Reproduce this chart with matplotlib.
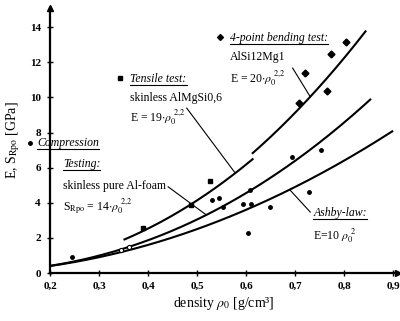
import numpy as np
import matplotlib
matplotlib.use("Agg")
import matplotlib.pyplot as plt
import matplotlib.lines as mlines

plt.rcParams['font.family'] = ['Liberation Serif', 'DejaVu Serif']
plt.rcParams['mathtext.fontset'] = 'stix'

# --- fitted laws: coefficient, exponent, density range ---
ashby_k, ashby_n = 10, 2.0
ashby_range = (0.2, 0.9)
comp_k, comp_n = 14, 2.2
comp_range = (0.2, 0.855)
tens_k, tens_n = 19, 2.2
tens_range = (0.35, 0.615)
bend_k, bend_n = 20, 2.2
bend_range = (0.612, 0.845)

# --- measured points (density, modulus) ---
bend_rho = [0.707, 0.766, 0.721, 0.774, 0.804]
bend_E = [9.67, 10.36, 11.4, 12.5, 13.15]

tens_rho = [0.39, 0.487, 0.527]
tens_E = [2.56, 3.87, 5.24]

comp_rho = [0.244, 0.53, 0.545, 0.553, 0.594, 0.61, 0.604, 0.608, 0.648,
            0.693, 0.729, 0.752]
comp_E = [0.93, 4.15, 4.27, 3.76, 3.93, 3.93, 2.28, 4.72, 3.76,
          6.6, 4.6, 7.0]

comp_open_rho = [0.345, 0.362]
comp_open_E = [1.3, 1.48]

xticks = [0.2, 0.3, 0.4, 0.5, 0.6, 0.7, 0.8, 0.9]
yticks = [0, 2, 4, 6, 8, 10, 12, 14]


def law(k, n, rng):
    x = np.linspace(rng[0], rng[1], 200)
    return x, k * x ** n


fig = plt.figure(figsize=(4, 3.21), dpi=100)
ax = fig.add_axes([0.125, 0.1495, 0.87, 0.826])

lw = 1.5
for k, n, rng in [(ashby_k, ashby_n, ashby_range), (comp_k, comp_n, comp_range),
                  (tens_k, tens_n, tens_range), (bend_k, bend_n, bend_range)]:
    x, y = law(k, n, rng)
    ax.plot(x, y, color='black', lw=lw, solid_capstyle='butt')

ax.plot(bend_rho, bend_E, 'D', color='black', ms=3.5)
ax.plot(tens_rho, tens_E, 's', color='black', ms=3)
ax.plot(comp_rho, comp_E, 'o', color='black', ms=2.5)
ax.plot(comp_open_rho, comp_open_E, 'o', mfc='white', mec='black', ms=3, mew=0.8)

# pointer lines from labels to curves
def pointer(x0, y0, x1, k, n):
    ax.plot([x0, x1], [y0, k * x1 ** n], color='black', lw=0.8)

pointer(0.479, 9.39, 0.578, tens_k, tens_n)
pointer(0.695, 11.67, 0.731, bend_k, bend_n)
pointer(0.731, 3.47, 0.689, ashby_k, ashby_n)
pointer(0.441, 4.91, 0.519, comp_k, comp_n)

fs = 8.5
underlined = []

# 4-point bending
ax.plot([0.547], [13.43], 'D', color='black', ms=3, clip_on=False)
underlined.append(ax.text(0.568, 13.4, "4-point bending test:", style='italic',
                          fontsize=fs, va='center'))
ax.text(0.568, 12.3, "AlSi12Mg1", fontsize=fs, va='center')
ax.text(0.568, 11.1, r"E = 20$\cdot\rho_0^{\ 2{,}2}$", fontsize=fs, va='center')

# tensile
ax.plot([0.343], [11.1], 's', color='black', ms=3, clip_on=False)
underlined.append(ax.text(0.364, 11.05, "Tensile test:", style='italic',
                          fontsize=fs, va='center'))
ax.text(0.364, 9.96, "skinless AlMgSi0,6", fontsize=fs, va='center')
ax.text(0.364, 8.88, r"E = 19$\cdot\rho_0^{\ 2{,}2}$", fontsize=fs, va='center')

# compression
ax.plot([0.16], [7.4], 'o', color='black', ms=2.5, clip_on=False)
underlined.append(ax.text(0.174, 7.4, "Compression", style='italic',
                          fontsize=fs, va='center'))
underlined.append(ax.text(0.226, 6.2, "Testing:", style='italic',
                          fontsize=fs, va='center'))
ax.text(0.226, 4.95, "skinless pure Al-foam", fontsize=fs, va='center')
ax.text(0.226, 3.8, r"S$_{\rm Rpo}$ = 14$\cdot\rho_0^{\ 2{,}2}$", fontsize=fs, va='center')

# ashby
underlined.append(ax.text(0.737, 3.4, "Ashby-law:", style='italic',
                          fontsize=fs, va='center'))
ax.text(0.737, 2.1, r"E=10 $\rho_0^{\ 2}$", fontsize=fs, va='center')

# axes styling
ax.set_xlim(0.2, 0.91)
ax.set_ylim(0, 15.1)
ax.set_xticks(xticks)
ax.set_yticks(yticks)
ax.set_xticklabels([f"{v:.1f}".replace('.', ',') for v in xticks])
ax.set_yticklabels([str(v) for v in yticks])
for lab in ax.get_xticklabels() + ax.get_yticklabels():
    lab.set_fontweight('bold')
    lab.set_fontsize(8)
ax.tick_params(direction='inout', length=5, width=1, pad=4)
for s in ['top', 'right']:
    ax.spines[s].set_visible(False)
for s in ['left', 'bottom']:
    ax.spines[s].set_linewidth(1.6)
ax.plot(1, 0, '>k', ms=4, transform=ax.transAxes, clip_on=False)
ax.plot(0, 1, '^k', ms=4, transform=ax.transAxes, clip_on=False)

ax.set_xlabel(r"density $\rho_0$ [g/cm³]", fontsize=10, labelpad=3)
ax.set_ylabel(r"E, S$_{\rm Rpo}$ [GPa]", fontsize=10, labelpad=6)

# underline the italic headings
fig.canvas.draw()
r = fig.canvas.get_renderer()
inv = fig.transFigure.inverted()
for t in underlined:
    bb = t.get_window_extent(r).transformed(inv)
    fig.add_artist(mlines.Line2D([bb.x0, bb.x1], [bb.y0, bb.y0],
                                 transform=fig.transFigure, color='black', lw=0.8))

fig.savefig("out.png", dpi=100)
